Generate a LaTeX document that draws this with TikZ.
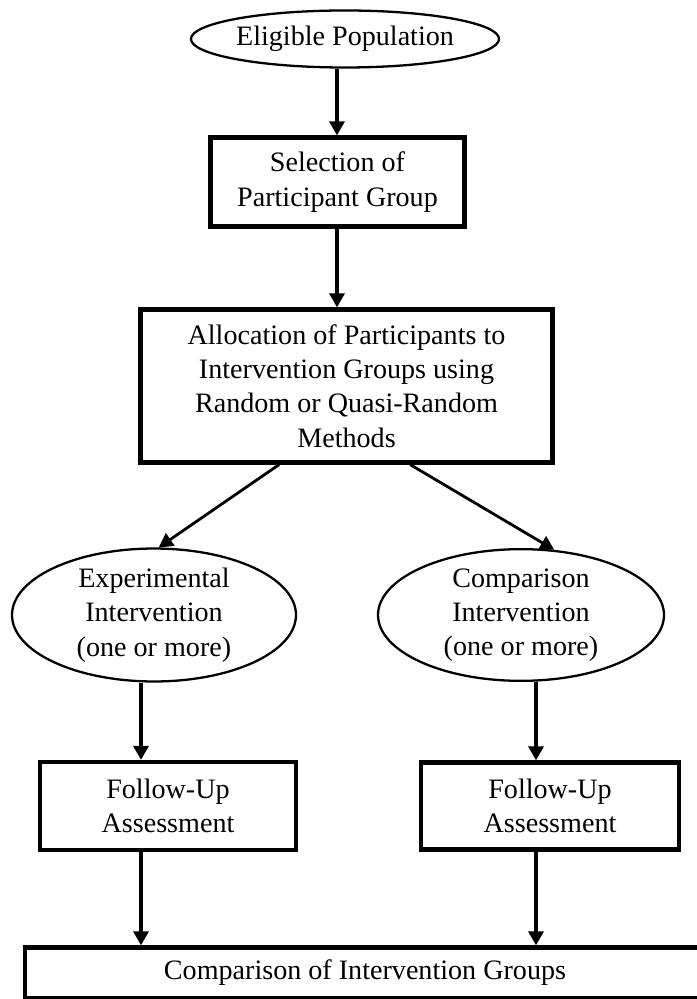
\documentclass[tikz,border=0pt]{standalone}
\usepackage{fontspec}
\setmainfont{Liberation Serif}
\usetikzlibrary{arrows.meta,shapes.geometric,positioning,calc}

\begin{document}
\begin{tikzpicture}[
			x=0.02cm,y=-0.02cm,
			stepbox/.style={
				draw=black,
				line width=2.4pt,
				fill=white,
				align=center,
				inner sep=0pt,
				font=\fontsize{16}{19.5}\selectfont
			},
			stepoval/.style={
				ellipse,
				draw=black,
				line width=1.3pt,
				fill=white,
				align=center,
				inner sep=0pt,
				font=\fontsize{16}{19.5}\selectfont
			},
			steparrow/.style={
				-{Triangle[length=8pt,width=8.5pt]},
				draw=black,
				line width=2.2pt
			},
			splitarrow/.style={
				steparrow,
				line width=1.6pt
			}
			]
			
			\useasboundingbox (0,0) rectangle (696,999);
			
			% Columns of the arrows
			\coordinate (colM) at (337,0);
			\coordinate (colL) at (141,0);
			\coordinate (colR) at (536,0);
			
			% Top
			\node[stepoval,minimum width=298*0.02cm,minimum height=57*0.02cm] (elig) at (345,39) {Eligible Population};
			
			\node[stepbox,minimum width=254*0.02cm,minimum height=89*0.02cm] (select) at (337.5,182) {
				Selection of\\
				Participant Group
			};
			
			\node[stepbox,minimum width=412*0.02cm,minimum height=153*0.02cm] (alloc) at (346.5,386) {
				Allocation of Participants to\\
				Intervention Groups using\\
				Random or Quasi-Random\\
				Methods
			};
			
			% Two arms
			\node[stepoval,minimum width=284*0.02cm,minimum height=121*0.02cm] (expint) at (154,615) {
				Experimental\\
				Intervention\\
				(one or more)
			};
			
			\node[stepoval,minimum width=286*0.02cm,minimum height=123*0.02cm] (cmpint) at (521,615) {
				Comparison\\
				Intervention\\
				(one or more)
			};
			
			\node[stepbox,minimum width=256*0.02cm,minimum height=88*0.02cm] (followL) at (168,806) {
				Follow-Up\\
				Assessment
			};
			
			\node[stepbox,minimum width=258*0.02cm,minimum height=87*0.02cm] (followR) at (550,806) {
				Follow-Up\\
				Assessment
			};
			
			% Bottom
			\node[stepbox,minimum width=680*0.02cm,minimum height=51*0.02cm] (compare) at (365,973) {Comparison of Intervention Groups};
			
			% Main sequence
			\draw[steparrow]
			(elig.south -| colM) --
			(select.north -| colM);
			
			\draw[steparrow]
			(select.south -| colM) --
			(alloc.north -| colM);
			
			% Split
			\draw[splitarrow]
			($(alloc.south west)!0.338!(alloc.south east)$) --
			(expint.86);
			
			\draw[splitarrow]
			($(alloc.south west)!0.653!(alloc.south east)$) --
			(cmpint.63);
			
			% Arms
			\draw[steparrow]
			(expint.south -| colL) --
			(followL.north -| colL);
			
			\draw[steparrow]
			(cmpint.south -| colR) --
			(followR.north -| colR);
			
			\draw[steparrow]
			(followL.south -| colL) --
			(compare.north -| colL);
			
			\draw[steparrow]
			(followR.south -| colR) --
			(compare.north -| colR);
			
		\end{tikzpicture}
\end{document}
